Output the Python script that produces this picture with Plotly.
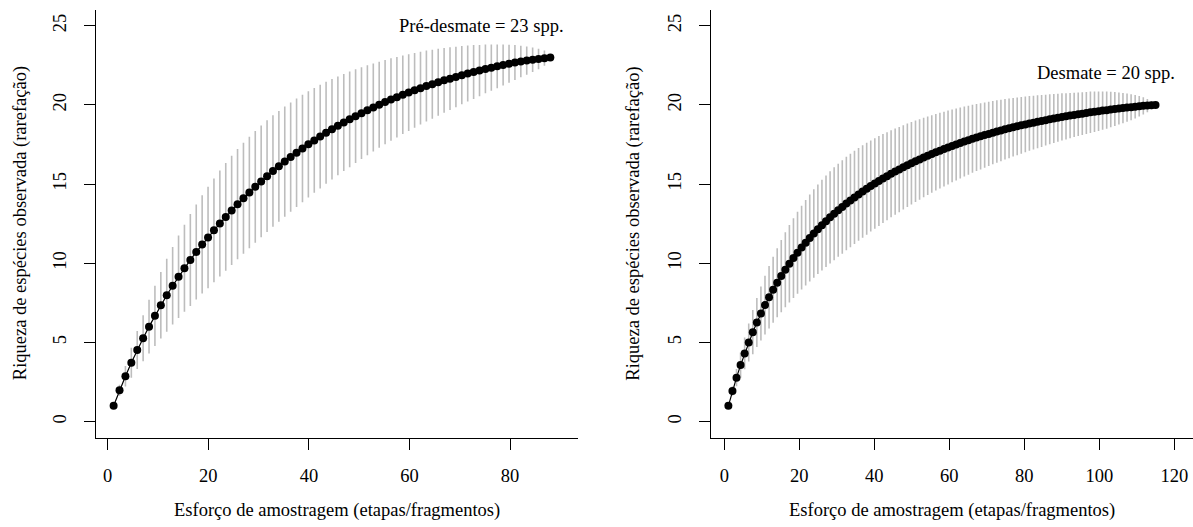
import plotly.graph_objects as go

# Rarefaction curves: species richness against sampling effort (individuals)
# Pré-desmate: 75 steps, 88 individuals, 23 species
pre_x_max = 88
pre_steps = 75
pre_rich = [
    1.00, 1.98, 2.87, 3.72, 4.52, 5.27, 6.00, 6.68, 7.35, 7.98,
    8.58, 9.15, 9.69, 10.21, 10.71, 11.19, 11.63, 12.08, 12.51, 12.93,
    13.34, 13.73, 14.11, 14.47, 14.83, 15.17, 15.50, 15.82, 16.12, 16.42,
    16.71, 16.98, 17.25, 17.51, 17.76, 18.00, 18.24, 18.46, 18.68, 18.89,
    19.09, 19.29, 19.48, 19.66, 19.84, 20.01, 20.18, 20.34, 20.49, 20.64,
    20.78, 20.92, 21.06, 21.19, 21.31, 21.43, 21.55, 21.66, 21.77, 21.88,
    21.98, 22.08, 22.17, 22.27, 22.35, 22.44, 22.52, 22.60, 22.68, 22.74,
    22.80, 22.85, 22.90, 22.95, 23.00,
]
# half-length of the interval bars (2 sd)
pre_ci = [
    0.00, 0.35, 0.65, 0.95, 1.20, 1.45, 1.70, 1.90, 2.10, 2.30,
    2.45, 2.60, 2.75, 2.90, 3.00, 3.10, 3.20, 3.28, 3.35, 3.40,
    3.45, 3.48, 3.50, 3.52, 3.53, 3.53, 3.53, 3.52, 3.50, 3.48,
    3.45, 3.42, 3.39, 3.35, 3.31, 3.27, 3.22, 3.17, 3.12, 3.07,
    3.02, 2.96, 2.90, 2.84, 2.78, 2.72, 2.66, 2.60, 2.54, 2.48,
    2.42, 2.36, 2.30, 2.24, 2.18, 2.12, 2.05, 1.98, 1.91, 1.84,
    1.77, 1.70, 1.62, 1.54, 1.46, 1.38, 1.29, 1.20, 1.10, 1.00,
    0.89, 0.77, 0.64, 0.48, 0.00,
]

# Desmate: 106 steps, 115 individuals, 20 species
des_x_max = 115
des_steps = 106
des_rich = [
    1.00, 1.93, 2.78, 3.57, 4.31, 5.00, 5.65, 6.26, 6.83, 7.36,
    7.86, 8.33, 8.77, 9.19, 9.59, 9.97, 10.33, 10.67, 10.99, 11.30,
    11.60, 11.88, 12.15, 12.41, 12.66, 12.90, 13.13, 13.35, 13.56, 13.77,
    13.97, 14.16, 14.35, 14.53, 14.71, 14.88, 15.04, 15.20, 15.35, 15.50,
    15.65, 15.79, 15.92, 16.06, 16.19, 16.32, 16.44, 16.56, 16.68, 16.79,
    16.90, 17.01, 17.11, 17.21, 17.31, 17.41, 17.50, 17.60, 17.69, 17.77,
    17.86, 17.94, 18.02, 18.10, 18.17, 18.25, 18.32, 18.39, 18.46, 18.52,
    18.59, 18.65, 18.71, 18.77, 18.83, 18.88, 18.94, 18.99, 19.04, 19.09,
    19.14, 19.19, 19.24, 19.28, 19.33, 19.37, 19.41, 19.45, 19.49, 19.53,
    19.57, 19.60, 19.64, 19.67, 19.71, 19.74, 19.77, 19.80, 19.83, 19.86,
    19.89, 19.92, 19.94, 19.96, 19.98, 20.00,
]
des_ci = [
    0.00, 0.30, 0.55, 0.80, 1.00, 1.20, 1.40, 1.55, 1.70, 1.85,
    1.97, 2.08, 2.18, 2.28, 2.37, 2.45, 2.52, 2.59, 2.65, 2.70,
    2.75, 2.79, 2.83, 2.86, 2.89, 2.91, 2.93, 2.94, 2.95, 2.95,
    2.95, 2.94, 2.93, 2.92, 2.90, 2.88, 2.86, 2.84, 2.81, 2.78,
    2.75, 2.72, 2.69, 2.66, 2.63, 2.60, 2.57, 2.54, 2.51, 2.48,
    2.45, 2.42, 2.39, 2.36, 2.33, 2.30, 2.27, 2.24, 2.21, 2.18,
    2.15, 2.12, 2.09, 2.06, 2.03, 2.00, 1.97, 1.94, 1.91, 1.88,
    1.85, 1.82, 1.79, 1.76, 1.73, 1.70, 1.67, 1.64, 1.61, 1.58,
    1.55, 1.52, 1.49, 1.46, 1.43, 1.40, 1.37, 1.35, 1.33, 1.31,
    1.28, 1.25, 1.21, 1.17, 1.12, 1.07, 1.01, 0.95, 0.89, 0.82,
    0.74, 0.65, 0.54, 0.42, 0.26, 0.00,
]

pre_label = "Pré-desmate = 23 spp."
des_label = "Desmate = 20 spp."
x_title = "Esforço de amostragem (etapas/fragmentos)"
y_title = "Riqueza de espécies observada (rarefação)"
pre_ticks = [0, 20, 40, 60, 80]
des_ticks = [0, 20, 40, 60, 80, 100, 120]
y_ticks = [0, 5, 10, 15, 20, 25]

FONT = "Liberation Serif"
FS = 18.5
W, H = 1193, 527

fig = go.Figure()


def add_panel(fig, rich, ci, n_steps, x_max, xa, ya):
    xs = [x_max * (i + 1) / n_steps for i in range(n_steps)]
    bx, by = [], []
    for x, m, d in zip(xs, rich, ci):
        if d > 0:
            bx += [x, x, None]
            by += [m - d, m + d, None]
    fig.add_trace(go.Scatter(x=bx, y=by, mode="lines", xaxis=xa, yaxis=ya,
                             line=dict(color="#bdbdbd", width=1.6),
                             hoverinfo="skip", showlegend=False))
    fig.add_trace(go.Scatter(x=xs, y=rich, mode="lines+markers", xaxis=xa, yaxis=ya,
                             line=dict(color="black", width=1.2),
                             marker=dict(color="black", size=8),
                             showlegend=False))


add_panel(fig, pre_rich, pre_ci, pre_steps, pre_x_max, "x", "y")
add_panel(fig, des_rich, des_ci, des_steps, des_x_max, "x2", "y2")

ydom = [1 - 437.5 / H, 1 - 9.9 / H]
common_axis = dict(showgrid=False, zeroline=False, showline=True, linecolor="black",
                   linewidth=1.3, ticks="outside", ticklen=11, tickwidth=1.3,
                   tickcolor="black", mirror=False,
                   tickfont=dict(family=FONT, size=FS, color="black"))

fig.update_layout(
    width=W, height=H,
    margin=dict(l=0, r=0, t=0, b=0),
    paper_bgcolor="white", plot_bgcolor="white",
    font=dict(family=FONT, size=FS, color="black"),
    xaxis=dict(common_axis, domain=[95.7 / W, 578 / W], range=[-2.39, 93.5],
               tickvals=pre_ticks, ticklabelstandoff=10, anchor="y"),
    yaxis=dict(common_axis, domain=ydom, range=[-1, 26], tickvals=y_ticks,
               tickangle=-90, ticklabelstandoff=10, anchor="x"),
    xaxis2=dict(common_axis, domain=[710.7 / W, 1.0], range=[-3.63, 125.0],
                tickvals=des_ticks, ticklabelstandoff=10, anchor="y2"),
    yaxis2=dict(common_axis, domain=ydom, range=[-1, 26], tickvals=y_ticks,
                tickangle=-90, ticklabelstandoff=10, anchor="x2"),
)

annotations = [
    dict(text=pre_label, x=91.1, y=25, xref="x", yref="y", xanchor="right",
         yanchor="middle", showarrow=False),
    dict(text=des_label, x=120.7, y=22, xref="x2", yref="y2", xanchor="right",
         yanchor="middle", showarrow=False),
    dict(text=x_title, x=(95.7 + 578) / 2 / W, y=1 - 510 / H, xref="paper", yref="paper",
         xanchor="center", yanchor="middle", showarrow=False),
    dict(text=x_title, x=(710.7 + 1193) / 2 / W, y=1 - 510 / H, xref="paper", yref="paper",
         xanchor="center", yanchor="middle", showarrow=False),
    dict(text=y_title, x=20.5 / W, y=0.5 * (ydom[0] + ydom[1]), xref="paper", yref="paper",
         xanchor="center", yanchor="middle", textangle=-90, showarrow=False),
    dict(text=y_title, x=634 / W, y=0.5 * (ydom[0] + ydom[1]), xref="paper", yref="paper",
         xanchor="center", yanchor="middle", textangle=-90, showarrow=False),
]
fig.update_layout(annotations=annotations)

fig.write_html("out.html")
